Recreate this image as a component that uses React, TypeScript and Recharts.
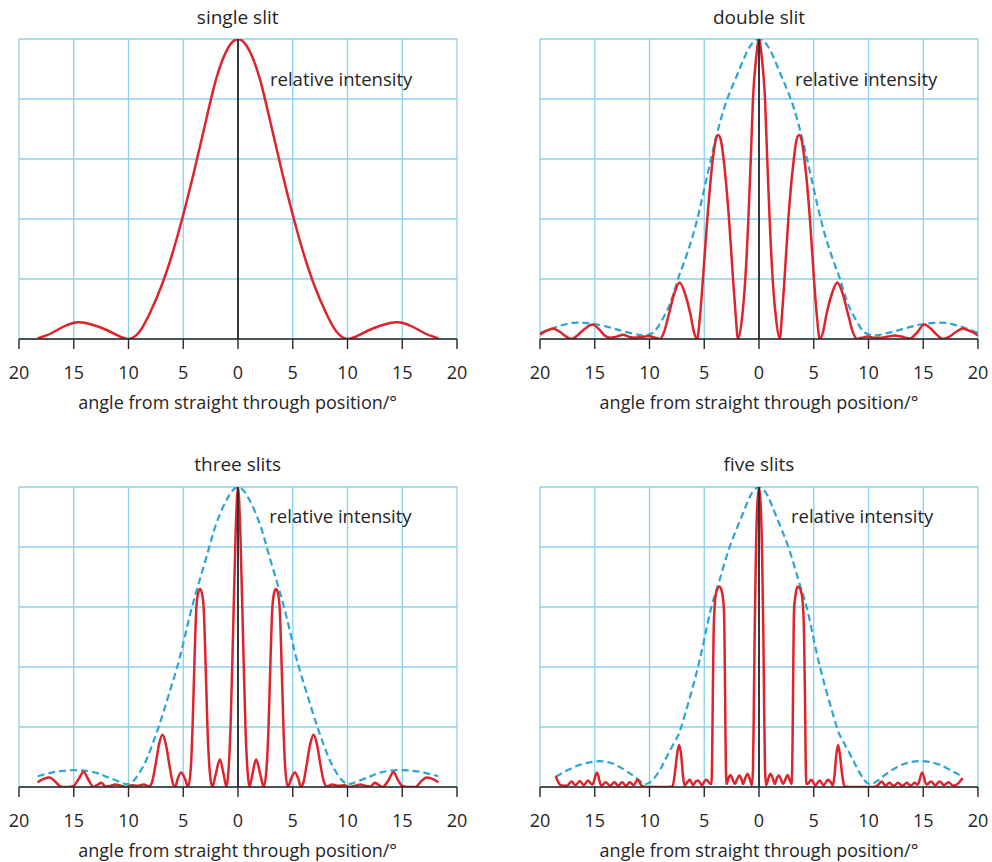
import React from "react";
import {
  CartesianGrid,
  Line,
  LineChart,
  ReferenceLine,
  XAxis,
  YAxis,
} from "recharts";

const angleTicks = [-20, -15, -10, -5, 0, 5, 10, 15, 20];
const intensityTicks = [0, 1, 2, 3, 4, 5];

// single slit
const singleAngle = [
  -18.3, -17.5, -17, -16, -15, -14.5, -14, -13, -12, -11, -10, -9, -8, -7, -6,
  -5, -4, -3, -2, -1, 0, 1, 2, 3, 4, 5, 6, 7, 8, 9, 10, 11, 12, 13, 14, 14.5,
  15, 16, 17, 17.5, 18.3,
];
const singleIntensity = [
  0.01, 0.06, 0.1, 0.2, 0.27, 0.28, 0.27, 0.22, 0.15, 0.06, 0, 0.12, 0.45,
  0.88, 1.42, 2.07, 2.8, 3.58, 4.33, 4.82, 5, 4.82, 4.33, 3.58, 2.8, 2.07,
  1.42, 0.88, 0.45, 0.12, 0, 0.06, 0.15, 0.22, 0.27, 0.28, 0.27, 0.2, 0.1,
  0.06, 0.01,
];

// double slit
const doubleAngle = [
  -20, -19.4, -18.8, -18.2, -17.6, -17.1, -16.6, -15.9, -15.2, -14.6, -14.1,
  -13.6, -13, -12.4, -11.9, -11.4, -10.8, -10.1, -9.5, -9.05,
  -8.7, -8.25, -7.75, -7.25, -6.75, -6.25, -5.95, -5.65,
  -5.38, -5.12, -4.72, -4.25, -3.97, -3.72, -3.47, -3.2, -2.74, -2.37, -2.13,
  -1.92,
  -1.55, -1.25, -0.97, -0.75, -0.55, -0.25, 0, 0.25, 0.55, 0.75, 0.97, 1.25,
  1.55, 1.9,
  2.1, 2.33, 2.68, 3.15, 3.41, 3.66, 3.91, 4.18, 4.65, 5.02, 5.28, 5.55,
  5.85, 6.15, 6.65, 7.15, 7.65, 8.15, 8.6, 8.95,
  9.4, 9.9, 10.6, 11.2, 11.8, 12.4, 13, 13.8, 14.4, 15.1, 15.7, 16.3, 16.8,
  17.4, 18, 18.6, 19.3, 20,
];
const doubleIntensity = [
  0.07, 0.14, 0.17, 0.12, 0.04, 0, 0.06, 0.17, 0.24, 0.16, 0.06,
  0.02, 0.04, 0.07, 0.04, 0.02, 0.03, 0.05, 0.02, 0,
  0.1, 0.4, 0.75, 0.94, 0.75, 0.4, 0.12, 0,
  0.4, 1.0, 2.0, 2.95, 3.3, 3.4, 3.3, 2.95, 2.0, 1.0, 0.4,
  0,
  0.35, 1.0, 2.0, 3.0, 4.0, 4.7, 5, 4.7, 4.0, 3.0, 2.0, 1.0,
  0.35, 0,
  0.4, 1.0, 2.0, 2.95, 3.3, 3.4, 3.3, 2.95, 2.0, 1.0, 0.4, 0,
  0.12, 0.4, 0.75, 0.94, 0.75, 0.4, 0.1, 0,
  0.02, 0.04, 0.02, 0.02, 0.04, 0.06, 0.04, 0.01, 0.1, 0.24, 0.17, 0.06, 0,
  0.04, 0.12, 0.17, 0.13, 0.06,
];
const doubleEnvAngle = [
  -20, -19, -18, -17, -16, -15, -14, -13, -12, -11, -10.4, -9.8, -9.3, -8.6,
  -8, -7.4, -7, -6, -5, -4, -3, -2, -1, 0, 1, 2, 3, 4, 5, 6, 7, 7.4, 8, 8.6,
  9.3, 9.8, 10.4, 11, 12, 13, 14, 15, 16, 17, 18, 19, 20,
];
const doubleEnvIntensity = [
  0.1, 0.17, 0.23, 0.27, 0.27, 0.25, 0.21, 0.16, 0.11, 0.07, 0.06, 0.09, 0.18,
  0.4, 0.65, 1.0, 1.2, 1.75, 2.5, 3.3, 3.95, 4.4, 4.82, 5, 4.82, 4.4, 3.95,
  3.3, 2.5, 1.75, 1.2, 1.0, 0.65, 0.4, 0.18, 0.09, 0.06, 0.07, 0.11, 0.16,
  0.21, 0.25, 0.27, 0.27, 0.23, 0.17, 0.1,
];

// three slits
const threeAngle = [
  -18.3, -17.7, -17.2, -16.7, -16.1, -15.5, -15, -14.6, -14.1, -13.6, -13.2,
  -12.8, -12.5, -12.1, -11.6, -11.2, -10.7, -10.2, -9.7, -9.2, -8.6, -8.1,
  -7.85, -7.55, -7.2, -6.9, -6.6, -6.25, -5.98, -5.75,
  -5.5, -5.2, -4.85, -4.55,
  -4.3, -4.15, -3.99, -3.8, -3.62, -3.47, -3.32, -3.14, -2.95, -2.79, -2.6,
  -2.35, -2.05, -1.65, -1.3, -1.05,
  -0.9, -0.68, -0.46, -0.22, 0, 0.22, 0.46, 0.68, 0.9,
  1.05, 1.3, 1.65, 2.05, 2.35,
  2.6, 2.79, 2.95, 3.14, 3.32, 3.47, 3.62, 3.8, 3.99, 4.15, 4.3,
  4.55, 4.85, 5.2, 5.5, 5.75,
  5.98, 6.25, 6.6, 6.9, 7.2, 7.55, 7.85,
  8.1, 8.6, 9.2, 9.7, 10.2, 10.7, 11.2, 11.6, 12.1, 12.5, 12.8, 13.2, 13.7,
  14.2, 14.6, 15, 15.5, 16.2, 16.7, 17.2, 17.7, 18.3,
];
const threeIntensity = [
  0.08, 0.14, 0.16, 0.09, 0, 0, 0.02, 0.12, 0.25, 0.1, 0,
  0.04, 0.07, 0.01, 0.02, 0.04, 0.02, 0, 0.03, 0.02, 0.04, 0.01,
  0.08, 0.35, 0.72, 0.87, 0.72, 0.35, 0.08, 0,
  0.14, 0.24, 0.14, 0,
  0.35, 1.0, 2.0, 3.0, 3.25, 3.3, 3.25, 3.0, 2.0, 1.0, 0.3,
  0, 0.2, 0.46, 0.2, 0,
  0.2, 1.0, 2.5, 4.2, 5, 4.2, 2.5, 1.0, 0.2,
  0, 0.2, 0.46, 0.2, 0,
  0.3, 1.0, 2.0, 3.0, 3.25, 3.3, 3.25, 3.0, 2.0, 1.0, 0.35,
  0, 0.14, 0.24, 0.14, 0,
  0.08, 0.35, 0.72, 0.87, 0.72, 0.35, 0.08,
  0.01, 0.04, 0.02, 0.03, 0, 0.02, 0.04, 0.02, 0.01, 0.07, 0.04, 0, 0.1,
  0.25, 0.12, 0.02, 0, 0, 0.09, 0.16, 0.14, 0.08,
];
const threeEnvAngle = [
  -18.3, -17, -16, -14.5, -13, -12, -11, -10, -9.2, -8.5, -8, -7.25, -6.3,
  -5.4, -4.8, -4.2, -3.5, -2.7, -2, -1, 0, 1, 2, 2.7, 3.5, 4.2, 4.8, 5.4, 6.3,
  7.25, 8, 8.5, 9.2, 10, 11, 12, 13, 14.5, 16, 17, 18.3,
];
const threeEnvIntensity = [
  0.18, 0.24, 0.27, 0.28, 0.24, 0.17, 0.1, 0.05, 0.18, 0.4, 0.62, 1.0, 1.55,
  2.1, 2.55, 3.0, 3.45, 3.95, 4.38, 4.8, 5, 4.8, 4.38, 3.95, 3.45, 3.0, 2.55,
  2.1, 1.55, 1.0, 0.62, 0.4, 0.18, 0.05, 0.1, 0.17, 0.24, 0.28, 0.27, 0.24,
  0.18,
];

// five slits
const fiveAngle = [
  -18.57, -18.1, -17.55, -17.13, -16.75, -16.37, -16, -15.62, -15.22, -14.8,
  -14.4, -14, -13.6, -13.2, -12.85, -12.5, -12.15, -11.8, -11.45, -11.1,
  -10.7, -10.3, -9.5, -8.5, -7.9,
  -7.7, -7.5, -7.3, -7.1, -6.95, -6.8,
  -6.55, -6.33, -6, -5.8, -5.57, -5.2, -5, -4.8, -4.5,
  -4.34, -4.28, -4.22, -4.15, -4.05, -3.9, -3.6, -3.35, -3.2, -3.12, -3.07,
  -3.02, -2.95,
  -2.8, -2.6, -2.4, -2.2, -2, -1.8, -1.6, -1.45, -1.25, -1.05, -0.85, -0.65,
  -0.55, -0.48, -0.4, -0.3, -0.18, 0, 0.18, 0.3, 0.4, 0.48, 0.55,
  0.65, 0.85, 1.05, 1.25, 1.45, 1.6, 1.8, 2, 2.2, 2.4, 2.6, 2.8,
  2.97, 3.03, 3.08, 3.13, 3.2, 3.35, 3.55, 3.85, 4.02, 4.12, 4.2, 4.26, 4.32,
  4.5, 4.78, 5.15, 5.54, 5.9, 6.3, 6.55, 6.75,
  6.9, 7.05, 7.22, 7.4, 7.6, 7.8,
  8.5, 9.5, 10.5, 10.85, 11.2, 11.55, 11.9, 12.3, 12.7, 13.1, 13.5, 13.85,
  14.2, 14.5, 14.9, 15.3, 15.7, 16.1, 16.5, 16.9, 17.3, 17.75, 18.2, 18.6,
];
const fiveIntensity = [
  0.18, 0.03, 0.02, 0.09, 0.03, 0.1, 0.03, 0.11, 0.04, 0.24,
  0.02, 0.08, 0.02, 0.08, 0.02, 0.08, 0.02, 0.08, 0.03, 0.12,
  0.02, 0, 0, 0, 0.01,
  0.2, 0.52, 0.7, 0.52, 0.2, 0.03,
  0.08, 0.12, 0.03, 0.09, 0.11, 0.03, 0.09, 0.12, 0.06,
  0.05, 0.5, 1.5, 2.5, 3.0, 3.25, 3.34, 3.22, 2.95, 2.0, 1.0,
  0.3, 0.05,
  0.14, 0.2, 0.12, 0.05, 0.13, 0.19, 0.13, 0.05, 0.15, 0.22, 0.14, 0.03,
  0.3, 1.2, 2.5, 3.7, 4.6, 5, 4.6, 3.7, 2.5, 1.2, 0.3,
  0.03, 0.14, 0.22, 0.15, 0.05, 0.13, 0.19, 0.13, 0.05, 0.12, 0.2, 0.12,
  0.05, 0.3, 1.0, 2.0, 2.95, 3.22, 3.34, 3.25, 3.0, 2.5, 1.5, 0.5, 0.05,
  0.06, 0.12, 0.03, 0.11, 0.03, 0.12, 0.08, 0.03,
  0.2, 0.52, 0.7, 0.52, 0.2, 0.01,
  0, 0, 0, 0.03, 0.09, 0.02, 0.07, 0.02, 0.07, 0.02, 0.07, 0.02,
  0.07, 0.04, 0.24, 0.04, 0.09, 0.03, 0.09, 0.03, 0.08, 0.02, 0.06, 0.15,
];
const fiveEnvAngle = [
  -18.57, -17.5, -16.5, -15.5, -14.5, -13.5, -12.5, -11.5, -10.8, -10.3, -9.7,
  -9, -8.3, -7.5, -7.1, -6.3, -5.57, -4.95, -4.35, -3.6, -2.68, -1.6, -0.8, 0,
  0.8, 1.6, 2.68, 3.6, 4.35, 4.95, 5.57, 6.3, 7.1, 7.5, 8.3, 9, 9.6, 10.1,
  10.7, 11.5, 12.5, 13.5, 14.5, 15.5, 16.5, 17.5, 18.6,
];
const fiveEnvIntensity = [
  0.17, 0.28, 0.36, 0.41, 0.43, 0.4, 0.31, 0.19, 0.09, 0.05, 0.12,
  0.3, 0.55, 0.82, 1.0, 1.5, 2.0, 2.5, 3.0, 3.45, 4.0, 4.5, 4.85, 5,
  4.85, 4.5, 4.0, 3.45, 3.0, 2.5, 2.0, 1.5, 1.0, 0.82, 0.55, 0.3, 0.12, 0.05,
  0.09, 0.2, 0.32, 0.4, 0.43, 0.42, 0.37, 0.28, 0.17,
];

const toPoints = (angles: number[], values: number[]) =>
  angles.map((angle, i) => ({ angle, intensity: values[i] }));

const FONT = "'Open Sans', 'Noto Sans', sans-serif";
const TEXT = "#252525";
const RED = "#df232b";
const BLUE = "#2aa6d6";
const GRID = "#8bd2ea";
const AXIS = "#262626";
const PLOT_W = 438;
const PLOT_H = 300;

const AngleTick = (props: any) => {
  const { x, y, payload } = props;
  return (
    <text
      x={x}
      y={y + 28}
      textAnchor="middle"
      fontFamily={FONT}
      fontSize={18}
      fill={TEXT}
    >
      {Math.abs(payload.value)}
    </text>
  );
};

type Point = { angle: number; intensity: number };

interface PanelProps {
  title: string;
  left: number;
  top: number;
  labelDx: number;
  labelDy: number;
  curve: Point[];
  curveType?: "monotone" | "natural";
  envelope?: Point[];
}

const Panel: React.FC<PanelProps> = ({
  title,
  left,
  top,
  labelDx,
  labelDy,
  curve,
  curveType = "monotone",
  envelope,
}) => {
  const textStyle: React.CSSProperties = {
    position: "absolute",
    fontFamily: FONT,
    fontSize: 18,
    lineHeight: "18px",
    color: TEXT,
    whiteSpace: "nowrap",
  };
  return (
    <>
      <div style={{ position: "absolute", left: left - 20, top: top - 40 }}>
        <LineChart
          width={PLOT_W + 40}
          height={PLOT_H + 90}
          margin={{ top: 40, right: 20, bottom: 0, left: 20 }}
        >
          <CartesianGrid stroke={GRID} strokeWidth={1.3} />
          <XAxis
            dataKey="angle"
            type="number"
            domain={[-20, 20]}
            ticks={angleTicks}
            allowDataOverflow
            height={50}
            tickSize={10}
            tick={<AngleTick />}
            axisLine={{ stroke: AXIS, strokeWidth: 1.6 }}
            tickLine={{ stroke: AXIS, strokeWidth: 1.4 }}
          />
          <YAxis
            hide
            type="number"
            domain={[0, 5]}
            ticks={intensityTicks}
            allowDataOverflow
          />
          {envelope && (
            <Line
              data={envelope}
              dataKey="intensity"
              type="natural"
              stroke={BLUE}
              strokeWidth={2.2}
              strokeDasharray="7 4"
              dot={false}
              activeDot={false}
              isAnimationActive={false}
            />
          )}
          <Line
            data={curve}
            dataKey="intensity"
            type={curveType}
            stroke={RED}
            strokeWidth={2.5}
            dot={false}
            activeDot={false}
            isAnimationActive={false}
          />
          <ReferenceLine x={0} stroke={AXIS} strokeWidth={1.8} />
        </LineChart>
      </div>
      <div
        style={{
          ...textStyle,
          left,
          width: PLOT_W,
          textAlign: "center",
          top: top - 31.5,
          fontSize: 19,
          lineHeight: "19px",
        }}
      >
        {title}
      </div>
      <div
        style={{
          ...textStyle,
          left: left + labelDx,
          top: top + labelDy - 0.5,
          fontSize: 18.5,
          lineHeight: "18.5px",
        }}
      >
        relative intensity
      </div>
      <div
        style={{
          ...textStyle,
          left,
          width: PLOT_W,
          textAlign: "center",
          top: top + PLOT_H + 54,
        }}
      >
        angle from straight through position/°
      </div>
    </>
  );
};

export default function App() {
  return (
    <div
      style={{
        position: "absolute",
        left: 0,
        top: 0,
        width: 992,
        height: 862,
        background: "#fff",
        overflow: "hidden",
      }}
    >
      <Panel
        title="single slit"
        left={18.7}
        top={39.3}
        labelDx={251.3}
        labelDy={30.7}
        curve={toPoints(singleAngle, singleIntensity)}
        curveType="natural"
      />
      <Panel
        title="double slit"
        left={540}
        top={39.3}
        labelDx={255}
        labelDy={30.7}
        curve={toPoints(doubleAngle, doubleIntensity)}
        envelope={toPoints(doubleEnvAngle, doubleEnvIntensity)}
      />
      <Panel
        title="three slits"
        left={18.7}
        top={486.5}
        labelDx={250.6}
        labelDy={21.3}
        curve={toPoints(threeAngle, threeIntensity)}
        envelope={toPoints(threeEnvAngle, threeEnvIntensity)}
      />
      <Panel
        title="five slits"
        left={540}
        top={486.5}
        labelDx={251}
        labelDy={21.3}
        curve={toPoints(fiveAngle, fiveIntensity)}
        envelope={toPoints(fiveEnvAngle, fiveEnvIntensity)}
      />
    </div>
  );
}
